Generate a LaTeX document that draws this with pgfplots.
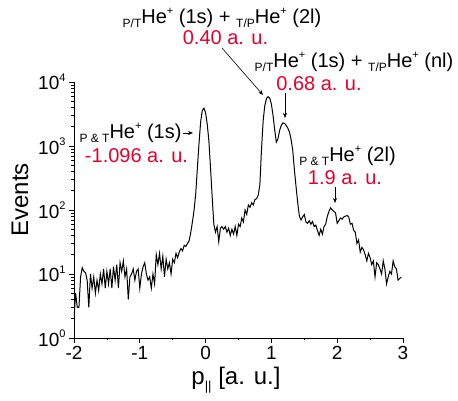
\documentclass[border=0pt]{standalone}
\usepackage{fontspec}
\setmainfont{Liberation Sans}
\usepackage{pgfplots}
\pgfplotsset{compat=1.18}
\usetikzlibrary{arrows.meta}
\definecolor{annred}{RGB}{228,0,43}
\newcommand{\lo}[1]{\raisebox{-0.35ex}{\fontsize{12}{12}\selectfont #1}}
\newcommand{\hi}[1]{\raisebox{0.85ex}{\fontsize{11}{11}\selectfont #1}}
\begin{document}
\begin{tikzpicture}
\begin{axis}[
  scale only axis,
  width=329pt, height=256pt,
  at={(0,0)}, anchor=south west,
  ymode=log,
  xmin=-2, xmax=3,
  ymin=1, ymax=10000,
  axis x line*=bottom,
  axis y line*=left,
  xtick={-2,-1,0,1,2,3},
  xticklabels={-2,-1,0,1,2,3},
  minor xtick={-1.5,-0.5,0.5,1.5,2.5},
  ytick={1,10,100,1000,10000},
  yticklabels={10\hi{0},10\hi{1},10\hi{2},10\hi{3},10\hi{4}},
  minor ytick={2,3,4,5,6,7,8,9,20,30,40,50,60,70,80,90,200,300,400,500,600,700,800,900,2000,3000,4000,5000,6000,7000,8000,9000},
  tick align=outside,
  major tick length=5pt,
  minor tick length=2.5pt,
  tick style={black, line width=0.6pt},
  axis line style={line width=0.8pt},
  tick label style={font=\fontsize{19}{22}\selectfont},
  /pgf/number format/assume math mode=true,
]
\addplot[black, line width=1pt] coordinates {
(-2.000,2)(-1.975,5)(-1.950,3)(-1.925,3)(-1.900,9)(-1.875,12.5)(-1.850,11)(-1.825,10.5)(-1.800,8)(-1.775,3)
(-1.750,10)(-1.725,6)(-1.700,9)(-1.675,5)(-1.650,8)(-1.625,5.5)(-1.600,10)(-1.575,7)(-1.550,12)(-1.525,6)
(-1.500,11)(-1.475,7)(-1.450,12)(-1.425,6)(-1.400,13)(-1.375,8)(-1.350,14)(-1.325,6)(-1.300,15)(-1.275,11)
(-1.250,16)(-1.225,9)(-1.200,12)(-1.175,4)(-1.150,9)(-1.125,10)(-1.100,12)(-1.075,8)(-1.050,11)(-1.025,12)
(-1.000,6)(-0.975,10)(-0.950,13)(-0.925,15)(-0.900,10)(-0.875,8)(-0.850,9)(-0.825,6)(-0.800,10)(-0.775,7)
(-0.750,20)(-0.725,14)(-0.700,21)(-0.675,12)(-0.650,19)(-0.625,9)(-0.600,17)(-0.575,12)(-0.550,15)(-0.525,10)
(-0.500,17)(-0.475,15)(-0.450,21)(-0.425,18)(-0.400,22)(-0.375,25)(-0.350,23)(-0.325,28)(-0.300,27)(-0.275,30)
(-0.250,33)(-0.225,45)(-0.200,65)(-0.175,100)(-0.150,180)(-0.125,450)(-0.100,1100)(-0.075,2400)(-0.050,3600)(-0.025,3900)
(0.000,3300)(0.025,2200)(0.050,1200)(0.075,450)(0.100,160)(0.125,60)(0.150,45)(0.175,55)(0.200,32)(0.225,52)
(0.250,55)(0.275,50)(0.300,55)(0.325,45)(0.350,52)(0.375,40)(0.400,50)(0.425,42)(0.450,55)(0.475,40)
(0.500,60)(0.525,55)(0.550,75)(0.575,65)(0.600,100)(0.625,85)(0.650,120)(0.675,110)(0.700,130)(0.725,120)
(0.750,145)(0.775,150)(0.800,170)(0.825,250)(0.850,900)(0.875,2500)(0.900,4300)(0.925,5500)(0.950,5900)(0.975,5600)
(1.000,4500)(1.025,3000)(1.050,1800)(1.075,1150)(1.100,1300)(1.125,1750)(1.150,2100)(1.175,2300)(1.200,2250)(1.225,2100)
(1.250,1900)(1.275,1650)(1.300,1250)(1.325,850)(1.350,420)(1.375,230)(1.400,130)(1.425,80)(1.450,70)(1.475,78)
(1.500,85)(1.525,65)(1.550,62)(1.575,68)(1.600,60)(1.625,66)(1.650,55)(1.675,58)(1.700,48)(1.725,40)
(1.750,50)(1.775,42)(1.800,55)(1.825,60)(1.850,80)(1.875,95)(1.900,108)(1.925,100)(1.950,95)(1.975,90)
(2.000,62)(2.025,68)(2.050,75)(2.075,72)(2.100,78)(2.125,80)(2.150,82)(2.175,78)(2.200,60)(2.225,62)
(2.250,48)(2.275,45)(2.300,30)(2.325,34)(2.350,22)(2.375,26)(2.400,24)(2.425,20)(2.450,16)(2.475,21)
(2.500,18)(2.525,14)(2.550,16)(2.575,9)(2.600,15)(2.625,14)(2.650,12)(2.675,10)(2.700,16)(2.725,12)
(2.750,7)(2.775,9)(2.800,11)(2.825,10)(2.850,16)(2.875,13)(2.900,12)(2.925,8)(2.950,8.5)(2.975,9)
};
\end{axis}
% axis labels
\node[rotate=90, font=\fontsize{24}{26}\selectfont] at (-54pt,138pt) {Events};
\node[font=\fontsize{24}{26}\selectfont] at (162pt,-42pt) {p\raisebox{-0.45ex}{\fontsize{13}{13}\selectfont ||} [a. u.]};
% annotations
\begin{scope}[every node/.style={font=\fontsize{20}{22}\selectfont, inner sep=0pt}]
\node at (148pt,320pt) {\lo{P/T}He\hi{+} (1s) + \lo{T/P}He\hi{+} (2l)};
\node[text=annred] at (151.5pt,300pt) {0.40 a. u.};
\node at (280pt,276pt) {\lo{P/T}He\hi{+} (1s) + \lo{T/P}He\hi{+} (nl)};
\node[text=annred] at (245pt,254pt) {0.68 a. u.};
\node at (56.5pt,205pt) {\lo{P \& T}He\hi{+} (1s)};
\node[text=annred] at (62.5pt,182pt) {-1.096 a. u.};
\node at (273.5pt,182pt) {\lo{P \& T}He\hi{+} (2l)};
\node[text=annred] at (271pt,160pt) {1.9 a. u.};
\end{scope}
\begin{scope}[line width=0.6pt, -{Stealth[length=5pt,width=4pt]}]
\draw (148pt,290pt) -- (189pt,243pt);
\draw (211pt,245pt) -- (211pt,220pt);
\draw (109pt,205pt) -- (119pt,205pt);
\draw (261pt,151pt) -- (261pt,135pt);
\end{scope}
\pgfresetboundingbox
\path[use as bounding box] (-74pt,-63pt) rectangle (384pt,338pt);
\end{tikzpicture}
\end{document}
